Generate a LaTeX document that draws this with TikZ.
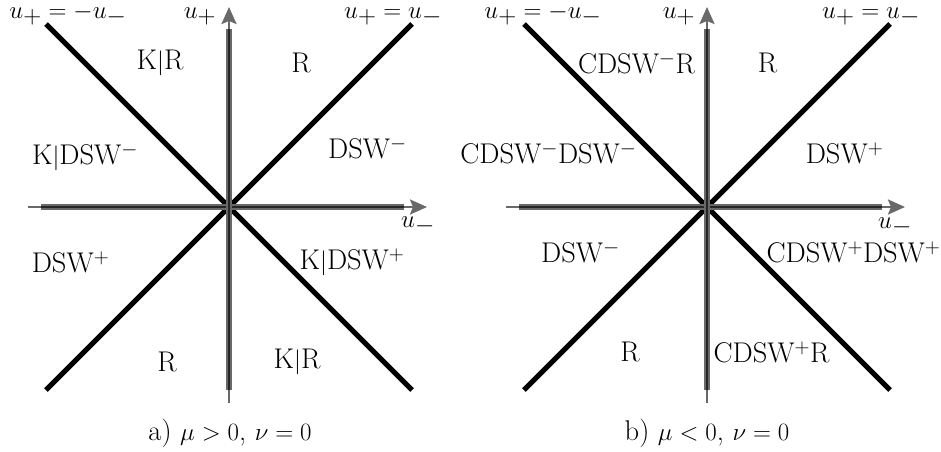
\documentclass[tikz,border=0pt]{standalone}
\usepackage{fontspec}
\usetikzlibrary{arrows.meta}
\definecolor{axgray}{RGB}{105,105,105}
\begin{document}
\begin{tikzpicture}[x=1pt,y=-1pt,
  lbl/.style={font=\fontsize{28.5}{34}\selectfont, inner sep=0pt},
  mlbl/.style={font=\fontsize{33}{40}\selectfont, inner sep=0pt, anchor=base},
  diag/.style={line width=5pt, black},
  axthin/.style={line width=2.5pt, axgray},
  axthick/.style={line width=6pt, axgray},
  axcore/.style={line width=2.6pt, black!85},
  axtip/.style={-{Stealth[length=17pt,width=15pt,inset=3pt]}}]
\useasboundingbox (0,0) rectangle (941,451);

% ---------- panel a ----------
\begin{scope}[shift={(229,207)}]
  \coordinate (aO) at (0,0);
  \coordinate (aUL) at (-183,-183); \coordinate (aUR) at (183,-183);
  \coordinate (aLL) at (-183,183);  \coordinate (aLR) at (183,183);
  \coordinate (aXs) at (-201,0); \coordinate (aXa) at (-188,0);
  \coordinate (aXb) at (175,0);  \coordinate (aXe) at (198,0);
  \coordinate (aYs) at (0,196);  \coordinate (aYa) at (0,183);
  \coordinate (aYb) at (0,-178); \coordinate (aYe) at (0,-200);
  \draw[diag] (aUL) -- (aLR);
  \draw[diag] (aLL) -- (aUR);
  \draw[axthin,axtip] (aXs) -- (aXe);
  \draw[axthick] (aXa) -- (aXb);
  \draw[axcore] (aXa) -- (aXb);
  \draw[axthin,axtip] (aYs) -- (aYe);
  \draw[axthick] (aYa) -- (aYb);
  \draw[axcore] (aYa) -- (aYb);
  \node[mlbl] (a1) at (-161,-189) {$u_+=-u_-$};
  \node[mlbl] (a2) at (-29,-189) {$u_+$};
  \node[mlbl] (a3) at (164,-189) {$u_+=u_-$};
  \node[mlbl] (a4) at (189,20) {$u_-$};
  \node[lbl] (a5) at (-69,-144) {K$|$R};
  \node[lbl] (a6) at (72,-144) {R};
  \node[lbl] (a7) at (-144,-50) {K$|$DSW$^-$};
  \node[lbl] (a8) at (138.5,-59) {DSW$^-$};
  \node[lbl] (a9) at (-158.5,55) {DSW$^+$};
  \node[lbl] (a10) at (123,55) {K$|$DSW$^+$};
  \node[lbl] (a11) at (-62,155) {R};
  \node[lbl] (a12) at (68,155) {K$|$R};
  \node[lbl] (a13) at (1,226) {a) $\mu>0$, $\nu=0$};
\end{scope}

% ---------- panel b ----------
\begin{scope}[shift={(707,207)}]
  \coordinate (bO) at (0,0);
  \coordinate (bUL) at (-183,-183); \coordinate (bUR) at (183,-183);
  \coordinate (bLL) at (-183,183);  \coordinate (bLR) at (183,183);
  \coordinate (bXs) at (-201,0); \coordinate (bXa) at (-188,0);
  \coordinate (bXb) at (175,0);  \coordinate (bXe) at (198,0);
  \coordinate (bYs) at (0,196);  \coordinate (bYa) at (0,183);
  \coordinate (bYb) at (0,-178); \coordinate (bYe) at (0,-200);
  \draw[diag] (bUL) -- (bLR);
  \draw[diag] (bLL) -- (bUR);
  \draw[axthin,axtip] (bXs) -- (bXe);
  \draw[axthick] (bXa) -- (bXb);
  \draw[axcore] (bXa) -- (bXb);
  \draw[axthin,axtip] (bYs) -- (bYe);
  \draw[axthick] (bYa) -- (bYb);
  \draw[axcore] (bYa) -- (bYb);
  \node[mlbl] (b1) at (-164,-189) {$u_+=-u_-$};
  \node[mlbl] (b2) at (-28,-189) {$u_+$};
  \node[mlbl] (b3) at (164,-189) {$u_+=u_-$};
  \node[mlbl] (b4) at (188,21) {$u_-$};
  \node[lbl] (b5) at (-70.5,-144) {CDSW$^-$R};
  \node[lbl] (b6) at (60.5,-144) {R};
  \node[lbl] (b7) at (-158.5,-54) {CDSW$^-$DSW$^-$};
  \node[lbl] (b8) at (137.5,-54) {DSW$^+$};
  \node[lbl] (b9) at (-126.5,45) {DSW$^-$};
  \node[lbl] (b10) at (146.5,45) {CDSW$^+$DSW$^+$};
  \node[lbl] (b11) at (-77,145) {R};
  \node[lbl] (b12) at (64.5,145) {CDSW$^+$R};
  \node[lbl] (b13) at (0,226) {b) $\mu<0$, $\nu=0$};
\end{scope}
\end{tikzpicture}
\end{document}
